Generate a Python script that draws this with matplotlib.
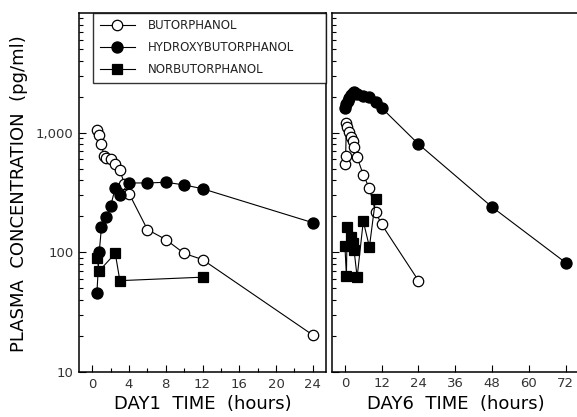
import matplotlib
matplotlib.use("Agg")
import matplotlib.pyplot as plt
from matplotlib.ticker import FixedLocator, LogLocator, NullFormatter, FixedFormatter

plt.rcParams['font.family'] = ['DejaVu Sans']

# ---- Day 1 ----
d1_but_t = [0.5, 0.75, 1.0, 1.25, 1.5, 2.0, 2.5, 3.0, 3.5, 4.0, 6, 8, 10, 12, 24]
d1_but_c = [1060, 960, 810, 640, 610, 600, 550, 490, 370, 310, 155, 128, 98, 87, 20.4]

d1_hyd_t = [0.5, 0.75, 1.0, 1.5, 2.0, 2.5, 3.0, 4, 6, 8, 10, 12, 24]
d1_hyd_c = [46, 100, 163, 197, 245, 345, 300, 380, 380, 385, 366, 340, 177]

d1_nor_t = [0.5, 0.75, 2.5, 3.0, 12]
d1_nor_c = [90, 70, 98, 58, 62]

# ---- Day 6 ----
d6_but_t = [0, 0.25, 0.5, 0.75, 1.25, 2.0, 2.5, 3.0, 4, 6, 8, 10, 12, 24]
d6_but_c = [548, 643, 1196, 1122, 1019, 926, 858, 754, 623, 444, 343, 217, 171, 58]

d6_hyd_t = [0, 0.5, 1.0, 1.5, 2.0, 2.5, 3.0, 4, 6, 8, 10, 12, 24, 48, 72]
d6_hyd_c = [1620, 1750, 1850, 1950, 2050, 2150, 2170, 2120, 2030, 1970, 1790, 1610, 803, 239, 82]

d6_nor_t = [0, 0.5, 0.75, 2.0, 2.5, 3.0, 4, 6, 8, 10]
d6_nor_c = [114, 64, 163, 134, 120, 104, 62, 182, 111, 279]

day1_ticks = [0, 4, 8, 12, 16, 20, 24]
day6_ticks = [0, 12, 24, 36, 48, 60, 72]
y_ticks = [10, 100, 1000]
y_tick_labels = ["10", "100", "1,000"]

W, H = 577, 417
fig = plt.figure(figsize=(W / 100, H / 100), dpi=100)

def px_axes(left, top, right, bottom):
    return fig.add_axes([left / W, 1 - bottom / H, (right - left) / W, (bottom - top) / H])

ax1 = px_axes(79, 13, 326, 372)
ax2 = px_axes(332, 13, 577, 372)

tick_color = '#333333'
line_kw = dict(color='black', lw=0.8)

def draw(ax, t, c, marker, face, ms, label=None):
    ax.plot(t, c, marker=marker, mfc=face, mec='black', mew=0.9, ms=ms,
            label=label, **line_kw)

draw(ax1, d1_but_t, d1_but_c, 'o', 'white', 7.5, 'BUTORPHANOL')
draw(ax1, d1_hyd_t, d1_hyd_c, 'o', 'black', 8, 'HYDROXYBUTORPHANOL')
draw(ax1, d1_nor_t, d1_nor_c, 's', 'black', 6.5, 'NORBUTORPHANOL')

draw(ax2, d6_hyd_t, d6_hyd_c, 'o', 'black', 8)
draw(ax2, d6_but_t, d6_but_c, 'o', 'white', 7.5)
draw(ax2, d6_nor_t, d6_nor_c, 's', 'black', 6.5)

for ax in (ax1, ax2):
    ax.set_yscale('log')
    ax.set_ylim(10, 10000)
    ax.yaxis.set_major_locator(FixedLocator(y_ticks))
    ax.yaxis.set_minor_locator(LogLocator(base=10, subs=range(2, 10)))
    ax.yaxis.set_minor_formatter(NullFormatter())
    ax.tick_params(which='both', direction='in', colors='black', labelcolor=tick_color,
                   labelsize=9.5, width=0.8)
    ax.tick_params(which='major', length=5)
    ax.tick_params(which='minor', length=3)
    for s in ax.spines.values():
        s.set_linewidth(1.1)

ax1.set_xlim(-1.45, 25.45)
ax1.xaxis.set_major_locator(FixedLocator(day1_ticks))
ax1.xaxis.set_minor_locator(FixedLocator([2, 6, 10, 14, 18, 22]))
ax1.yaxis.set_major_formatter(FixedFormatter(y_tick_labels))
ax1.tick_params(axis='x', pad=4)
ax1.tick_params(axis='y', pad=4)

ax2.set_xlim(-4.2, 75.7)
ax2.xaxis.set_major_locator(FixedLocator(day6_ticks))
ax2.xaxis.set_minor_locator(FixedLocator([]))
ax2.tick_params(axis='y', labelleft=False)
ax2.spines['right'].set_visible(False)

leg = ax1.legend(loc='upper left', bbox_to_anchor=(0.057, 0.81, 0.943, 0.19),
                 mode='expand', borderaxespad=0, frameon=True, fancybox=False,
                 fontsize=8.5, handlelength=3.0, labelspacing=0.75,
                 borderpad=0.55, handletextpad=1.1)
leg.get_frame().set_edgecolor('black')
leg.get_frame().set_linewidth(1.0)
for txt in leg.get_texts():
    txt.set_color('#222222')

fig.text(19 / W, 1 - 194 / H, "PLASMA  CONCENTRATION  (pg/ml)", rotation=90,
         ha='center', va='center', fontsize=13)
fig.text(203 / W, 1 - 404 / H, "DAY1  TIME  (hours)", ha='center', va='center', fontsize=13)
fig.text(456 / W, 1 - 404 / H, "DAY6  TIME  (hours)", ha='center', va='center', fontsize=13)

fig.savefig("out.png", dpi=100)
